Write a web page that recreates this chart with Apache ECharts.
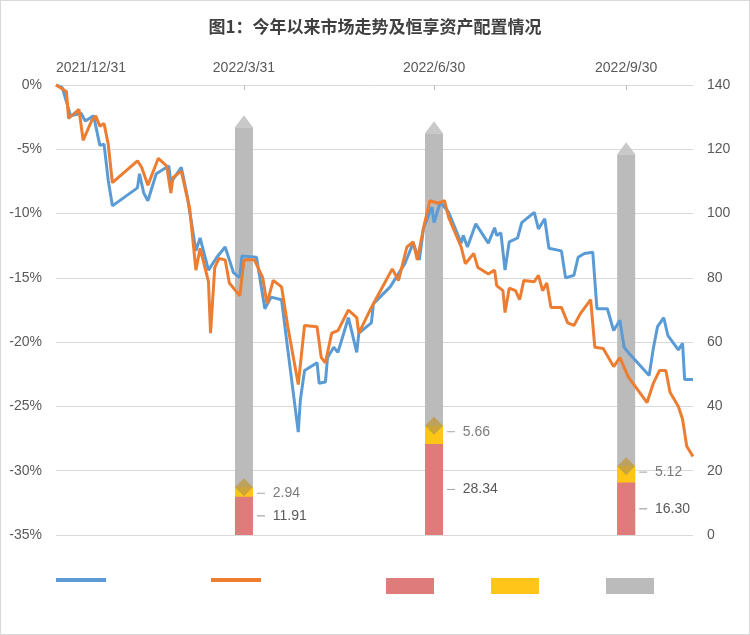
<!DOCTYPE html>
<html><head><meta charset="utf-8">
<script src="https://cdn.jsdelivr.net/npm/echarts@6/dist/echarts.min.js"></script>
<style>html,body{margin:0;padding:0;background:#fff}#c{width:748px;height:633px;border:1px solid #d9d9d9}</style>
</head><body><div id="c"></div>
<script>
// day offset from 2021-12-31, percent change
const blueDays=[0,3,7,12,14,18,21,23,25,27,39,40,42,44,48,54,55,60,63,67,69,73,77,81,85,88,89,96,100,103,108,111,116,117,119,125,126,129,130,133,135,140,144,145,151,152,160,167,171,174,176,180,181,184,188,194,195,197,201,207,210,211,213,215,217,221,223,229,231,234,236,242,244,248,250,253,257,259,264,267,270,272,274,284,286,288,291,293,298,300,301,305];
const blueVals=[0,-0.2,-2.4,-2.2,-2.8,-2.4,-4.7,-4.6,-7.4,-9.4,-8.0,-6.9,-8.4,-9.0,-6.9,-6.3,-7.6,-6.4,-8.8,-12.9,-11.9,-14.4,-13.4,-12.6,-14.6,-15.0,-13.3,-13.4,-17.4,-16.5,-16.7,-20.6,-27.0,-24.5,-22.2,-21.6,-23.2,-23.1,-21.2,-20.4,-20.8,-18.1,-20.8,-19.3,-18.5,-17.0,-15.7,-13.9,-12.3,-13.6,-11.1,-9.5,-10.7,-9.1,-9.9,-12.3,-11.7,-12.6,-10.8,-12.3,-11.1,-11.7,-11.5,-14.4,-12.2,-11.9,-10.7,-9.9,-11.2,-10.4,-12.7,-12.9,-15.0,-14.8,-13.4,-13.1,-13.0,-17.4,-17.4,-19.1,-18.3,-20.4,-20.8,-22.6,-20.5,-18.8,-18.1,-19.5,-20.6,-20.1,-22.9,-22.9];
const orangeDays=[0,5,6,11,13,17,19,21,23,25,27,39,41,44,49,53,55,56,60,64,67,69,73,74,76,78,81,83,88,90,95,99,101,104,108,111,116,119,125,127,129,132,135,140,144,145,151,158,161,164,168,171,173,176,179,183,186,188,194,196,200,202,207,210,211,214,215,217,220,222,224,229,231,233,235,237,242,245,248,251,256,258,262,267,270,274,283,286,289,292,294,298,300,302,305];
const orangeVals=[0,-0.5,-2.6,-1.9,-4.3,-2.8,-2.4,-3.2,-3.0,-4.6,-7.6,-5.9,-6.4,-7.8,-5.7,-6.3,-8.4,-7.2,-6.7,-9.6,-14.4,-12.7,-15.3,-19.3,-14.2,-13.5,-13.6,-15.4,-16.4,-13.6,-13.6,-15.0,-17.0,-15.2,-15.7,-18.8,-23.3,-18.7,-18.8,-21.2,-21.6,-19.3,-19.1,-17.5,-18.1,-19.3,-17.3,-15.2,-14.3,-15.2,-12.6,-12.2,-13.6,-11.1,-9.0,-9.2,-9.0,-10.3,-12.6,-13.9,-13.1,-14.2,-14.7,-14.4,-15.6,-16.0,-17.7,-15.8,-16.0,-16.7,-15.2,-15.3,-14.8,-16.0,-15.4,-17.3,-17.3,-18.5,-18.7,-17.8,-16.7,-20.4,-20.5,-21.9,-21.2,-22.7,-24.7,-23.2,-22.2,-22.2,-23.9,-25.0,-26.0,-28.1,-28.9];
const barDays=[90,181,273];
const redVals=[11.91,28.34,16.30];
const yellowVals=[2.94,5.66,5.12];
const grayVals=[112,91,97];
const tickDays=[0,90,181,273];
const tickLabels=['2021/12/31','2022/3/31','2022/6/30','2022/9/30'];

const zip=(a,b)=>a.map((v,i)=>[v,b[i]]);
const cumY=redVals.map((r,i)=>r+yellowVals[i]);
const cumG=cumY.map((v,i)=>v+grayVals[i]);
const lbl='#595959';
const c=echarts.init(document.getElementById('c'));
const legendItem=(name,left,h,w)=>({data:[name],left,top:572,itemWidth:w||50,itemHeight:h,icon:'rect',formatter:()=>'',selectedMode:false});
const leader={l:{width:8,height:0,borderColor:'#a6a6a6',borderWidth:0.8}};
c.setOption({
  animation:false,
  title:{text:'图1：今年以来市场走势及恒享资产配置情况',left:'center',top:12,textStyle:{fontSize:17,fontWeight:'bold',color:'#404040',fontFamily:'Noto Sans CJK SC'}},
  legend:[legendItem('s1',50,4),legendItem('s2',205,4),legendItem('s3',380,16,48),legendItem('s4',485,16,48),legendItem('s5',600,16,48)],
  grid:{left:55,right:56,top:84,bottom:99},
  xAxis:{type:'value',position:'top',min:0,max:305,
    axisLine:{show:true,lineStyle:{color:'#d9d9d9'}},
    axisTick:{show:true,inside:true,customValues:tickDays.slice(1),length:5,lineStyle:{color:'#bfbfbf'}},
    axisLabel:{customValues:tickDays,formatter:v=>tickLabels[tickDays.indexOf(v)],color:lbl,fontSize:14,
      alignMinLabel:'left',showMinLabel:true,margin:10},
    splitLine:{show:false}},
  yAxis:[
    {type:'value',min:-35,max:0,interval:5,axisLabel:{formatter:v=>v+'%',color:lbl,fontSize:14,margin:14},
      splitLine:{lineStyle:{color:'#d9d9d9'}},axisLine:{show:false},axisTick:{show:false}},
    {type:'value',min:0,max:140,interval:20,axisLabel:{color:lbl,fontSize:14,margin:14},
      splitLine:{show:false},axisLine:{show:false},axisTick:{show:false}}
  ],
  series:[
    {name:'s5',type:'bar',yAxisIndex:1,barWidth:18,barGap:'-100%',data:zip(barDays,cumG),itemStyle:{color:'#bbbbbb'},z:1},
    {name:'s4',type:'bar',yAxisIndex:1,barWidth:18,barGap:'-100%',data:zip(barDays,cumY),itemStyle:{color:'#ffc619'},z:2},
    {name:'s3',type:'bar',yAxisIndex:1,barWidth:18,barGap:'-100%',data:zip(barDays,redVals),itemStyle:{color:'#e07b7b'},z:3,
      label:{show:true,position:'right',distance:4,color:lbl,fontSize:14,formatter:p=>'{l|}  '+p.value[1].toFixed(2),rich:leader}},
    {type:'scatter',yAxisIndex:1,symbol:'triangle',symbolSize:[18,12],symbolOffset:[0,-6],silent:true,z:1,
      data:zip(barDays,cumG),itemStyle:{color:'#bbbbbb'}},
    {type:'scatter',yAxisIndex:1,symbol:'diamond',symbolSize:[18,18],silent:true,z:4,
      data:barDays.map((d,i)=>[d,cumY[i],yellowVals[i]]),itemStyle:{color:'#bf9b45'},
      label:{show:true,position:'right',distance:4,offset:[0,6],color:lbl,fontSize:14,formatter:p=>'{l|}  '+p.value[2].toFixed(2),rich:leader}},
    {name:'s1',type:'line',data:zip(blueDays,blueVals),showSymbol:false,lineStyle:{color:'#5b9bd5',width:3},itemStyle:{color:'#5b9bd5'},z:5},
    {name:'s2',type:'line',data:zip(orangeDays,orangeVals),showSymbol:false,lineStyle:{color:'#ed7d31',width:3},itemStyle:{color:'#ed7d31'},z:6}
  ]
});
</script></body></html>
